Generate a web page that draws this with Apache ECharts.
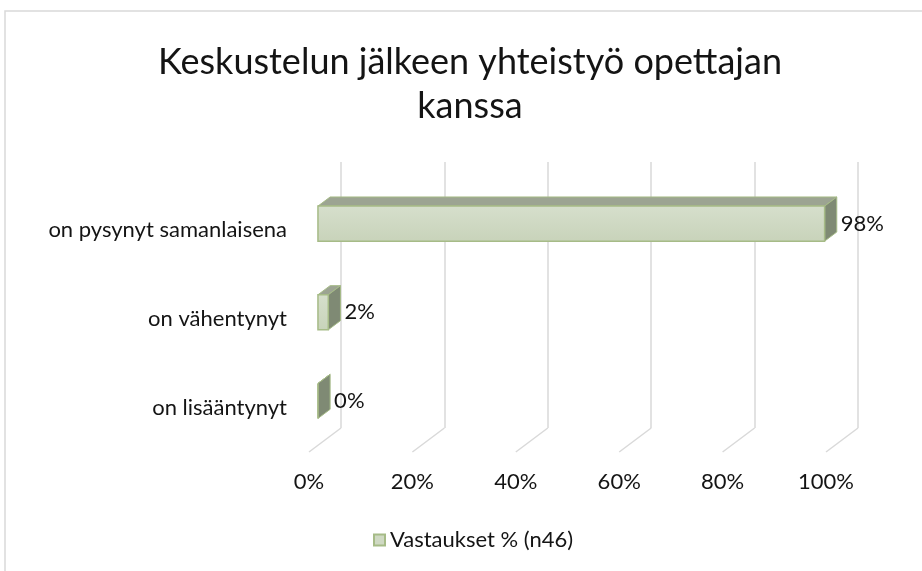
<!DOCTYPE html>
<html>
<head>
<meta charset="utf-8">
<script src="https://cdn.jsdelivr.net/npm/echarts@6/dist/echarts.min.js"></script>
<style>
  html, body { margin: 0; padding: 0; background: #fff; }
  #chart { width: 922px; height: 571px; }
</style>
</head>
<body>
<div id="chart"></div>
<script>
// data
var categories = ['on lisääntynyt', 'on vähentynyt', 'on pysynyt samanlaisena'];
var answers = [0, 2, 98];
var xTicks = [0, 20, 40, 60, 80, 100];
var seriesName = 'Vastaukset % (n46)';
var titleText = 'Keskustelun jälkeen yhteistyö opettajan\nkanssa';

// 3D look: offset from back wall to front edge of floor
var DX = -32, DY = 24;
var FRONT = 0.72, BACK = 0.34;

var myChart = echarts.init(document.getElementById('chart'));

function barItem(params, api) {
  var v = api.value(0), c = api.value(1);
  var p0 = api.coord([0, c]);
  var p1 = api.coord([v, c]);
  var h = api.size([0, 1])[1] * 0.395;
  var fx0 = p0[0] + FRONT * DX;
  var fx1 = p1[0] + FRONT * DX;
  var fcy = p0[1] + FRONT * DY;
  var top = fcy - h / 2, bot = fcy + h / 2;
  var ddx = (BACK - FRONT) * DX, ddy = (BACK - FRONT) * DY;
  var edge = '#a6bb87';
  return {
    type: 'group',
    children: [
      {
        type: 'polygon',
        shape: { points: [[fx0, top], [fx1, top], [fx1 + ddx, top + ddy], [fx0 + ddx, top + ddy]] },
        style: { fill: '#9ca492', stroke: edge, lineWidth: 1 }
      },
      {
        type: 'polygon',
        shape: { points: [[fx1, top], [fx1 + ddx, top + ddy], [fx1 + ddx, bot + ddy], [fx1, bot]] },
        style: { fill: '#7f8a74', stroke: edge, lineWidth: 1 }
      },
      {
        type: 'rect',
        shape: { x: fx0, y: top, width: Math.max(fx1 - fx0, 0), height: h },
        style: {
          fill: new echarts.graphic.LinearGradient(0, 0, 0, 1, [
            { offset: 0, color: '#d6dfcc' },
            { offset: 1, color: '#c8d3ba' }
          ]),
          stroke: edge,
          lineWidth: 1.5
        }
      },
      {
        type: 'text',
        x: fx1 + ddx + 4,
        y: fcy,
        style: {
          text: v + '%',
          fill: '#141414',
          font: '22px Lato',
          verticalAlign: 'middle',
          align: 'left'
        }
      }
    ]
  };
}

function floorItem(params, api) {
  var x = api.coord([api.value(0), 0])[0];
  var yb = params.coordSys.y + params.coordSys.height;
  return {
    type: 'line',
    shape: { x1: x, y1: yb, x2: x + DX, y2: yb + DY },
    style: { stroke: '#d9d9d9', lineWidth: 1.5 }
  };
}

var options = {
  animation: false,
  textStyle: { fontFamily: 'Lato' },
  title: {
    text: titleText,
    left: 470,
    top: 40,
    padding: 0,
    textAlign: 'center',
    textStyle: { fontSize: 36, fontWeight: 'normal', color: '#141414', lineHeight: 44, fontFamily: 'Lato' }
  },
  graphic: [
    {
      type: 'rect',
      shape: { x: 5, y: 11, width: 960, height: 600 },
      style: { fill: 'none', stroke: '#d9d9d9', lineWidth: 1.5 },
      silent: true
    }
  ],
  legend: {
    data: [seriesName],
    left: 373,
    top: 529,
    padding: 0,
    icon: 'rect',
    itemWidth: 11,
    itemHeight: 11,
    textStyle: { fontSize: 22, color: '#141414', fontFamily: 'Lato' }
  },
  grid: [
    { left: 341, right: 64, top: 162, bottom: 143 },
    { left: 309, right: 96, top: 186, bottom: 119 }
  ],
  xAxis: [
    {
      gridIndex: 0,
      type: 'value',
      min: 0,
      max: 100,
      interval: 20,
      axisLine: { show: false },
      axisTick: { show: false },
      axisLabel: { show: false },
      splitLine: { show: true, lineStyle: { color: '#d9d9d9', width: 1.5 } }
    },
    {
      gridIndex: 1,
      type: 'value',
      min: 0,
      max: 100,
      interval: 20,
      axisLine: { show: false },
      axisTick: { show: false },
      splitLine: { show: false },
      axisLabel: { formatter: '{value}%', fontSize: 22, color: '#141414', margin: 19 }
    }
  ],
  yAxis: [
    {
      gridIndex: 0,
      type: 'category',
      data: categories,
      axisLine: { show: false },
      axisTick: { show: false },
      axisLabel: { show: false }
    },
    {
      gridIndex: 1,
      type: 'category',
      data: categories,
      axisLine: { show: false },
      axisTick: { show: false },
      axisLabel: { fontSize: 22, color: '#141414', margin: 22 }
    }
  ],
  series: [
    {
      name: 'floor',
      type: 'custom',
      xAxisIndex: 0,
      yAxisIndex: 0,
      silent: true,
      renderItem: floorItem,
      data: xTicks.map(function (t) { return [t, 0]; }),
      z: 1
    },
    {
      name: seriesName,
      type: 'custom',
      xAxisIndex: 0,
      yAxisIndex: 0,
      renderItem: barItem,
      itemStyle: { color: '#cfd9c3', borderColor: '#a6bb87', borderWidth: 1 },
      encode: { x: 0, y: 1 },
      data: answers.map(function (v, i) { return [v, i]; }),
      z: 3
    }
  ]
};

myChart.setOption(options);
</script>
</body>
</html>
